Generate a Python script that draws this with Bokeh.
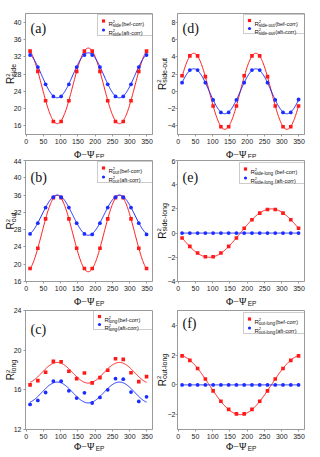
import numpy as np
from bokeh.plotting import figure
from bokeh.layouts import column, row
from bokeh.models import Label, Range1d, Legend, LegendItem
from bokeh.core.properties import value
from bokeh.embed import file_html
from bokeh.resources import INLINE

# ---------------- data ----------------
phi = [11.25, 33.75, 56.25, 78.75, 101.25, 123.75, 146.25, 168.75,
       191.25, 213.75, 236.25, 258.75, 281.25, 303.75, 326.25, 348.75]
x_ticks = [0, 50, 100, 150, 200, 250, 300, 350]

side_bef = [33.3, 28.6, 21.8, 17.0, 17.0, 21.8, 28.6, 33.3, 33.3, 28.6, 21.8, 17.0, 17.0, 21.8, 28.6, 33.3]
side_aft = [32.4, 29.6, 25.6, 22.8, 22.8, 25.6, 29.6, 32.4, 32.4, 29.6, 25.6, 22.8, 22.8, 25.6, 29.6, 32.4]
out_bef = [19.0, 23.7, 30.5, 35.4, 35.4, 30.5, 23.7, 19.0, 19.0, 23.7, 30.5, 35.4, 35.4, 30.5, 23.7, 19.0]
out_aft = [27.0, 29.5, 33.1, 35.5, 35.5, 33.1, 29.5, 27.0, 26.9, 29.5, 33.1, 35.5, 35.5, 33.1, 29.5, 26.9]
long_bef = [16.5, 16.93, 17.77, 18.87, 18.83, 17.87, 17.13, 17.7, 16.7, 17.23, 17.97, 19.13, 19.07, 17.73, 16.83, 17.33]
long_aft = [14.53, 14.93, 15.73, 16.87, 16.87, 15.9, 15.17, 15.7, 14.67, 15.23, 16.0, 17.13, 17.07, 15.77, 14.83, 15.3]
sideout_bef = [1.8, 4.1, 4.1, 1.7, -1.7, -4.1, -4.1, -1.7, 1.8, 4.1, 4.1, 1.7, -1.7, -4.1, -4.1, -1.7]
sideout_aft = [1.0, 2.45, 2.45, 1.0, -1.0, -2.45, -2.45, -1.0, 1.0, 2.45, 2.45, 1.0, -1.0, -2.45, -2.45, -0.95]
sidelong_bef = [-0.4, -1.1, -1.65, -1.95, -1.95, -1.65, -1.1, -0.4, 0.4, 1.1, 1.65, 1.95, 1.95, 1.65, 1.1, 0.4]
sidelong_aft = [0, 0, 0, 0, 0, 0, 0, 0, 0, 0, 0, 0, 0, 0, 0, 0]
outlong_bef = [1.95, 1.65, 1.1, 0.4, -0.4, -1.1, -1.65, -1.95, -1.95, -1.65, -1.1, -0.4, 0.4, 1.1, 1.65, 1.95]
outlong_aft = [0, 0, 0, 0, 0, 0, 0, 0, 0, 0, 0, 0, 0, 0, 0, 0]

# fitted curves: [const, cos(2phi), sin(2phi), cos(phi), sin(phi)]
side_bef_fit = [25.25, 8.75, 0, 0, 0]
side_aft_fit = [27.7, 5.2, 0, 0, 0]
out_bef_fit = [27.1, -8.85, 0, 0, 0]
out_aft_fit = [31.35, -4.65, 0, 0, 0]
long_bef_fit = [17.72, -1.04, 0, 0, 0]
long_aft_fit = [15.73, -1.05, 0, 0, 0]
sideout_bef_fit = [0, 0, 4.4, 0, 0]
sideout_aft_fit = [0, 0, 2.6, 0, 0]
sidelong_bef_fit = [0, 0, 0, 0, -2.0]
sidelong_aft_fit = [0, 0, 0, 0, 0]
outlong_bef_fit = [0, 0, 0, 2.0, 0]
outlong_aft_fit = [0, 0, 0, 0, 0]

RED = "#ff1a1a"
BLUE = "#1a2cff"
GRAY = "#9a9a9a"
SANS = "Liberation Sans"
SERIF = "Liberation Serif"

AW = {' ': 0.278, '(': 0.333, ')': 0.333, '-': 0.333, 'a': 0.556, 'b': 0.556, 'c': 0.5,
      'd': 0.556, 'e': 0.556, 'f': 0.278, 'g': 0.556, 'i': 0.222, 'l': 0.222, 'n': 0.556,
      'o': 0.556, 'r': 0.333, 's': 0.5, 't': 0.278, 'u': 0.556, 'E': 0.667, 'P': 0.667,
      'R': 0.722, '2': 0.556}


def tw(s, size):
    return sum(AW.get(c, 0.556) for c in s) * size


def fit_curve(params):
    t = np.linspace(phi[0], phi[-1], 240)
    r = np.radians(t)
    y = (params[0] + params[1] * np.cos(2 * r) + params[2] * np.sin(2 * r)
         + params[3] * np.cos(r) + params[4] * np.sin(r))
    return t, y


def lab(p, x, y, text, size, font=SANS, color="#111111", align="left",
        baseline="alphabetic"):
    # text inside the frame (frame-relative screen px, y up)
    p.add_layout(Label(x=x, y=y, x_units="screen", y_units="screen", text=text,
                       text_font=font, text_font_size=f"{size}px", text_color=color,
                       text_align=align, text_baseline=baseline))


def gtext(p, ax, ay, fx, fy, text, size, font=SANS, angle=0.0, color="#111111"):
    # text outside the frame: anchored at a frame corner, offset in px (fy: up)
    p.text(x=[ax], y=[ay], text=[text], x_offset=fx, y_offset=-fy, angle=angle,
           text_font=value(font), text_font_size=value(f"{size}px"), text_color=color,
           text_align="left", text_baseline="alphabetic", level="overlay")


def make_panel(col, rowi, bef, aft, bef_fit, aft_fit, ylim, yticks, sub, tag,
               leg_left, leg_top, leg_bot, tag_off, space=""):
    xr = (-2, 366)
    if col == 0:
        W, bl, br, bx, sto = 153, 25, 1, -15, 2
    else:
        W, bl, br, bx, sto = 167, 24, 16, -15.5, 0
    if rowi == 0:
        H, bt, bb, xl = 158, 13, 24, -19.5
    elif rowi == 1:
        H, bt, bb, xl = 149, 2, 26, -20
    else:
        H, bt, bb, xl = 149, 3, 27, -16.5
    Wf = W - bl - br
    Hf = H - bt - bb
    p = figure(width=W, height=H, output_backend="svg", toolbar_location=None,
               x_range=Range1d(*xr), y_range=Range1d(*ylim),
               min_border_left=bl, min_border_right=br, min_border_top=bt,
               min_border_bottom=bb, title=None)
    p.grid.visible = False
    p.outline_line_color = GRAY
    p.outline_line_width = 1
    p.background_fill_color = "white"
    for ax in (p.xaxis[0], p.yaxis[0]):
        ax.axis_line_color = GRAY
        ax.major_tick_line_color = GRAY
        ax.minor_tick_line_color = None
        ax.major_tick_out = 2
        ax.major_tick_in = 0
        ax.major_label_standoff = 2
        ax.major_label_text_font = SANS
        ax.major_label_text_font_size = "7px"
        ax.major_label_text_color = "#222222"
    p.yaxis[0].major_label_standoff = sto
    p.xaxis.ticker = x_ticks
    p.yaxis.ticker = yticks

    t, yb = fit_curve(bef_fit)
    p.line(t, yb, line_color=RED, line_width=1)
    t, ya = fit_curve(aft_fit)
    p.line(t, ya, line_color=BLUE, line_width=1)
    rb = p.scatter(phi, bef, marker="square", size=3.6, fill_color=RED, line_color=RED, line_width=0)
    ra = p.scatter(phi, aft, marker="circle", size=3.8, fill_color=BLUE, line_color=BLUE, line_width=0)

    # y axis label R^2_sub (rotated), anchored at frame bottom-left
    rs, ss, bs = 10, 6, 7
    L = tw("R", rs) + tw(sub, bs)
    y0 = Hf / 2 - L / 2
    a90 = np.pi / 2
    gtext(p, xr[0], ylim[0], bx, y0, "R", rs, angle=a90)
    gtext(p, xr[0], ylim[0], bx - 3, y0 + tw("R", rs), "2", ss, angle=a90)
    gtext(p, xr[0], ylim[0], bx + 2.5, y0 + tw("R", rs), sub, bs, angle=a90)

    # x axis label, anchored at frame bottom-left
    w1 = 2.12 * 10
    w2 = tw("EP", 6.5)
    x0 = Wf / 2 - (w1 + w2) / 2
    gtext(p, xr[0], ylim[0], x0, xl, "\u03a6\u2212\u03a8", 10, font=SERIF)
    gtext(p, xr[0], ylim[0], x0 + w1 + 0.5, xl - 2, "EP", 6.5)

    # panel tag
    lab(p, 5, Hf - tag_off, tag, 14, font=SERIF, baseline="middle")

    # legend box + markers (Bokeh legend), texts as labels
    box_w = int(round(Wf - 1.5 - leg_left))
    box_h = leg_bot - leg_top
    pad = 1
    gh = int((box_h - 2 * pad) // 2)
    leg = Legend(items=[LegendItem(label=" ", renderers=[rb]),
                        LegendItem(label=" ", renderers=[ra])],
                 location=(leg_left, Hf - leg_top - (2 * pad + 2 * gh)), orientation="vertical",
                 padding=pad, spacing=0, margin=0, glyph_width=8, glyph_height=gh,
                 label_height=gh, label_width=box_w - 2 * pad - 8, label_standoff=0,
                 label_text_font_size="4px", border_line_color=GRAY, border_line_width=0.8,
                 background_fill_alpha=0)
    p.add_layout(leg, "center")
    for k, tail in enumerate(["(bef-corr)", "(aft-corr)"]):
        yc = Hf - leg_top - pad - gh / 2 - gh * k
        xs = leg_left + 11
        yb0 = yc - 2
        lab(p, xs, yb0, "R", 6)
        xs2 = xs + tw("R", 6)
        lab(p, xs2, yb0 + 2.5, "2", 4)
        lab(p, xs2, yb0 - 1.5, sub + space, 4.5)
        xs3 = xs2 + tw(sub + space, 4.5) + 0.3
        lab(p, xs3, yb0, tail, 5.5)
    return p


pa = make_panel(0, 0, side_bef, side_aft, side_bef_fit, side_aft_fit, (14, 42),
                [16, 20, 24, 28, 32, 36, 40], "side", "(a)", 72, 3, 24, 14.5)
pd = make_panel(1, 0, sideout_bef, sideout_aft, sideout_bef_fit, sideout_aft_fit, (-5, 9),
                [-4, -2, 0, 2, 4, 6, 8], "side-out", "(d)", 66, 3, 21, 14.5)
pb = make_panel(0, 1, out_bef, out_aft, out_bef_fit, out_aft_fit, (16, 44),
                [16, 20, 24, 28, 32, 36, 40, 44], "out", "(b)", 72, 3, 24, 17)
pe = make_panel(1, 1, sidelong_bef, sidelong_aft, sidelong_bef_fit, sidelong_aft_fit, (-4, 6),
                [-4, -2, 0, 2, 4, 6], "side-long", "(e)", 62, 4, 24, 17, space=" ")
pc = make_panel(0, 2, long_bef, long_aft, long_bef_fit, long_aft_fit, (12, 24),
                [12, 16, 20, 24], "long", "(c)", 68, 2, 21, 18.5)
pf = make_panel(1, 2, outlong_bef, outlong_aft, outlong_bef_fit, outlong_aft_fit, (-3, 5),
                [-2, 0, 2, 4], "out-long", "(f)", 66, 4, 24, 13)

layout = column(row(pa, pd), row(pb, pe), row(pc, pf))
open("out.html", "w").write(file_html(layout, INLINE))
